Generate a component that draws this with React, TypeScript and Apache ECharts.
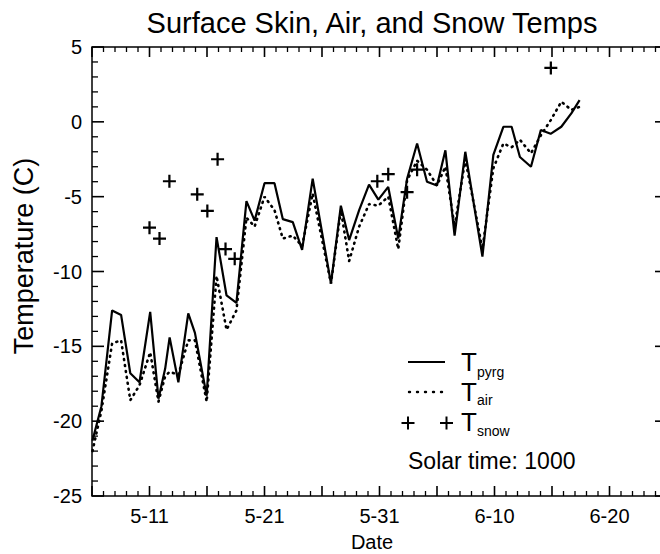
import { useEffect, useRef } from "react";
import * as echarts from "echarts";

// x values: days after 5-6 (May 6); y values: temperature (C)
const days = [0.04, 0.82, 1.75, 2.53, 3.33, 4.13, 5.06, 5.78, 6.36, 6.75, 7.51, 8.37, 8.95, 9.97, 10.83, 11.7, 12.56, 13.43, 14.14, 15.0, 15.87, 16.59, 17.46, 18.27, 19.19, 20.78, 21.64, 22.36, 23.23, 24.09, 24.9, 25.76, 26.63, 27.4, 28.27, 29.13, 30.0, 30.73, 31.53, 32.46, 33.95, 34.9, 35.77, 36.49, 37.21, 38.17, 39.03, 39.88, 40.81, 41.68, 42.4];
const tPyrg = [-21.3, -19.0, -12.6, -12.9, -16.8, -17.4, -12.7, -18.5, -16.5, -14.4, -17.4, -12.8, -14.1, -18.3, -7.7, -11.6, -12.1, -5.3, -6.6, -4.1, -4.1, -6.5, -6.7, -8.55, -3.8, -10.8, -5.6, -7.9, -5.9, -4.2, -5.2, -4.35, -7.8, -3.8, -1.45, -4.0, -4.25, -1.9, -7.6, -2.0, -9.0, -2.2, -0.33, -0.33, -2.35, -3.0, -0.55, -0.8, -0.33, 0.56, 1.45];
const tAir = [-22.0, -19.3, -14.8, -14.6, -18.6, -17.6, -15.4, -18.7, -17.0, -16.7, -16.9, -14.6, -14.6, -18.7, -10.3, -13.9, -12.6, -6.4, -7.0, -5.0, -5.9, -7.8, -7.6, -8.3, -4.8, -10.8, -5.9, -9.3, -7.0, -5.5, -5.6, -5.0, -8.5, -3.9, -2.6, -3.2, -4.25, -3.0, -7.0, -2.5, -8.5, -3.1, -1.45, -1.7, -1.2, -2.1, -0.9, 0.1, 1.34, 0.8, 1.0];
const snowDays = [5.0, 5.87, 6.73, 9.15, 10.03, 10.92, 11.61, 12.41, 24.81, 25.76, 27.4, 28.27, 39.9];
const tSnow = [-7.07, -7.8, -3.97, -4.84, -5.95, -2.5, -8.5, -9.15, -3.97, -3.5, -4.7, -3.2, 3.6];
const xTickDays = [5, 15, 25, 35, 45];
const xTickLabels = ["5-11", "5-21", "5-31", "6-10", "6-20"];

const X_MIN = 0;
const X_MAX = 50;
const Y_MIN = -25;
const Y_MAX = 5;
const MAJOR = 5;

const FONT = "'Liberation Sans', Arial, Helvetica, sans-serif";
const PLUS = "path://M5.8,0H8.2V14H5.8ZM0,5.8H14V8.2H0Z";

export default function App() {
  const ref = useRef<HTMLDivElement>(null);
  useEffect(() => {
    if (!ref.current) return;
    const chart = echarts.init(ref.current, null, { renderer: "svg" });
    const legendText = (text: string, x: number, y: number, size: number) => ({
      type: "text",
      x,
      y,
      style: { text, fontSize: size, fontFamily: FONT, fill: "#000", align: "left", verticalAlign: "middle" },
    });
    const plusLines = (cx: number, cy: number) => [
      { type: "line", shape: { x1: cx - 6.5, y1: cy, x2: cx + 6.5, y2: cy }, style: { stroke: "#000", lineWidth: 2 } },
      { type: "line", shape: { x1: cx, y1: cy - 6.5, x2: cx, y2: cy + 6.5 }, style: { stroke: "#000", lineWidth: 2 } },
    ];
    const baseGraphic: any[] = [
      {
        type: "text",
        x: 372,
        y: 23,
        style: { text: "Surface Skin, Air, and Snow Temps", fontSize: 29, fontFamily: FONT, fill: "#000", align: "center", verticalAlign: "middle" },
      },
      {
        type: "text",
        x: 372,
        y: 542,
        style: { text: "Date", fontSize: 20, fontFamily: FONT, fill: "#000", align: "center", verticalAlign: "middle" },
      },
      {
        type: "text",
        x: 24,
        y: 256,
        rotation: Math.PI / 2,
        style: { text: "Temperature (C)", fontSize: 27, fontFamily: FONT, fill: "#000", align: "center", verticalAlign: "middle" },
      },
      { type: "line", shape: { x1: 408, y1: 362, x2: 445, y2: 362 }, style: { stroke: "#000", lineWidth: 2 } },
      { type: "line", shape: { x1: 409, y1: 392, x2: 444, y2: 392 }, style: { stroke: "#000", lineWidth: 2.4, lineDash: [1, 7], lineCap: "round" } },
      ...plusLines(408, 423),
      ...plusLines(446.5, 423),
      legendText("T", 461, 362, 26),
      legendText("pyrg", 477, 372, 14),
      legendText("T", 461, 392, 26),
      legendText("air", 477, 400, 14),
      legendText("T", 461, 422, 26),
      legendText("snow", 477, 431, 14),
      legendText("Solar time: 1000", 408, 461, 23),
    ];
    // frame placed through the axes' scales
    const frameRender = (_params: any, api: any) => {
      const tl = api.coord([X_MIN, Y_MAX]);
      const br = api.coord([X_MAX, Y_MIN]);
      return {
        type: "rect",
        shape: { x: tl[0], y: tl[1], width: br[0] - tl[0], height: br[1] - tl[1] },
        style: { fill: "none", stroke: "#000", lineWidth: 1.5 },
      };
    };
    chart.setOption({
      animation: false,
      backgroundColor: "#fff",
      grid: { left: 92, top: 47, right: 1, bottom: 58 },
      xAxis: {
        type: "value",
        min: X_MIN,
        max: X_MAX,
        interval: MAJOR,
        axisLine: { show: false },
        axisTick: { show: false },
        minorTick: { show: false },
        splitLine: { show: false },
        axisLabel: {
          show: true,
          color: "#000",
          fontSize: 20,
          fontFamily: FONT,
          margin: 10,
          formatter: (v: number) => {
            const i = xTickDays.indexOf(Math.round(v));
            return i >= 0 ? xTickLabels[i] : "";
          },
        },
      },
      yAxis: {
        type: "value",
        min: Y_MIN,
        max: Y_MAX,
        interval: MAJOR,
        axisLine: { show: false },
        axisTick: { show: false },
        minorTick: { show: false },
        splitLine: { show: false },
        axisLabel: { show: true, color: "#000", fontSize: 20, fontFamily: FONT, margin: 10 },
      },
      series: [
        {
          name: "frame",
          type: "custom",
          renderItem: frameRender,
          data: [[X_MIN, Y_MIN]],
          clip: false,
          silent: true,
          z: 5,
        },
        {
          name: "T_pyrg",
          type: "line",
          symbol: "none",
          data: days.map((d, i) => [d, tPyrg[i]]),
          lineStyle: { color: "#000", width: 2.2 },
          z: 3,
        },
        {
          name: "T_air",
          type: "line",
          symbol: "none",
          data: days.map((d, i) => [d, tAir[i]]),
          lineStyle: { color: "#000", width: 2.6, type: [1, 5], cap: "round" },
          z: 2,
        },
        {
          name: "T_snow",
          type: "scatter",
          symbol: PLUS,
          symbolSize: 13,
          data: snowDays.map((d, i) => [d, tSnow[i]]),
          itemStyle: { color: "#000", opacity: 1 },
          z: 4,
        },
      ],
      graphic: baseGraphic,
    });

    // inside ticks on all four sides, positioned with the chart's own scales
    const px = (x: number, y: number) => chart.convertToPixel({ gridIndex: 0 }, [x, y]) as number[];
    const tl = px(X_MIN, Y_MAX);
    const br = px(X_MAX, Y_MIN);
    const ticks: any[] = [];
    const tick = (x1: number, y1: number, x2: number, y2: number, w: number) =>
      ticks.push({ type: "line", z: 10, shape: { x1, y1, x2, y2 }, style: { stroke: "#000", lineWidth: w } });
    for (let d = X_MIN; d <= X_MAX; d++) {
      const major = (d - X_MIN) % MAJOR === 0;
      const len = major ? 10 : 5;
      const w = major ? 1.6 : 1.3;
      const x = px(d, Y_MIN)[0];
      tick(x, br[1], x, br[1] - len, w);
      tick(x, tl[1], x, tl[1] + len, w);
    }
    for (let t = Y_MIN; t <= Y_MAX; t++) {
      const major = (t - Y_MIN) % MAJOR === 0;
      const len = major ? 12 : 6;
      const w = major ? 1.6 : 1.3;
      const y = px(X_MIN, t)[1];
      tick(tl[0], y, tl[0] + len, y, w);
      tick(br[0], y, br[0] - len, y, w);
    }
    chart.setOption({ graphic: [...baseGraphic, ...ticks] });
    return () => chart.dispose();
  }, []);
  return (
    <div style={{ position: "fixed", left: 0, top: 0, width: 660, height: 554, overflow: "hidden", background: "#fff" }}>
      <div ref={ref} style={{ width: 670, height: 554 }} />
    </div>
  );
}
